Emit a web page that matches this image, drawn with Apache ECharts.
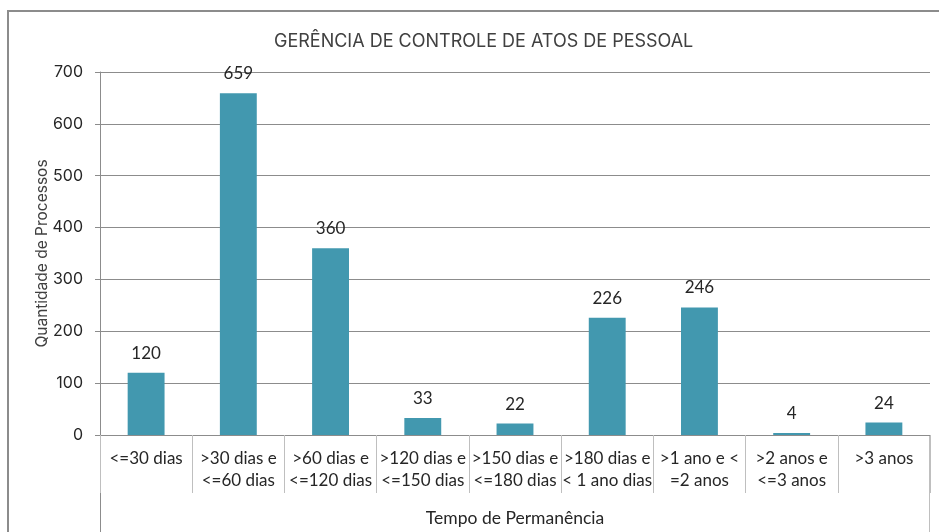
<!DOCTYPE html>
<html>
<head>
<meta charset="utf-8" />
<title>Gerência de Controle de Atos de Pessoal</title>
<script src="https://cdn.jsdelivr.net/npm/echarts@6/dist/echarts.min.js"></script>
<style>
  html, body { margin: 0; padding: 0; background: #fff; }
  #main { width: 939px; height: 532px; }
</style>
</head>
<body>
<div id="main"></div>
<script type="text/javascript">
    // dados do grafico
    var categorias = [
        '<=30 dias',
        '>30 dias e\n<=60 dias',
        '>60 dias e\n<=120 dias',
        '>120 dias e\n<=150 dias',
        '>150 dias e\n<=180 dias',
        '>180 dias e\n< 1 ano dias',
        '>1 ano e <\n=2 anos',
        '>2 anos e\n<=3 anos',
        '>3 anos'
    ];
    var processos = [120, 659, 360, 33, 22, 226, 246, 4, 24];
    var titulo = 'GERÊNCIA DE CONTROLE DE ATOS DE PESSOAL';
    var nomeX = 'Tempo de Permanência';
    var nomeY = 'Quantidade de Processos';

    var myChart = echarts.init(document.getElementById('main'));

    var option = {
        animation: false,
        title: {
            text: titulo,
            left: 269,
            top: 28,
            textStyle: {
                fontFamily: 'Inter',
                fontWeight: 'normal',
                fontSize: 18,
                color: '#404040'
            }
        },
        grid: {
            left: 100,
            right: 9,
            top: 72,
            bottom: 97,
            outerBoundsMode: 'none'
        },
        xAxis: {
            type: 'category',
            data: categorias,
            name: nomeX,
            nameLocation: 'middle',
            nameGap: 74,
            nameMoveOverlap: false,
            nameTextStyle: {
                fontFamily: 'Lato',
                fontSize: 17.5,
                color: '#262626'
            },
            axisLine: { lineStyle: { color: '#8c8c8c', width: 1 } },
            axisTick: {
                show: true,
                interval: 0,
                length: 58,
                lineStyle: { color: '#bfbfbf', width: 1 }
            },
            axisLabel: {
                interval: 0,
                margin: 13,
                fontFamily: 'Lato',
                fontSize: 17,
                lineHeight: 22,
                color: '#262626'
            }
        },
        yAxis: {
            type: 'value',
            min: 0,
            max: 700,
            interval: 100,
            name: nomeY,
            nameLocation: 'middle',
            nameGap: 50,
            nameMoveOverlap: false,
            nameTextStyle: {
                fontFamily: 'Inter',
                fontSize: 15.5,
                color: '#404040'
            },
            axisLine: { show: true, lineStyle: { color: '#8c8c8c', width: 1 } },
            axisTick: { show: true, length: 5, lineStyle: { color: '#8c8c8c' } },
            axisLabel: {
                margin: 17,
                fontFamily: 'Inter',
                fontSize: 16,
                color: '#262626'
            },
            splitLine: { lineStyle: { color: '#8c8c8c', width: 1 } }
        },
        series: [{
            name: 'Processos',
            type: 'bar',
            data: processos,
            barWidth: '40%',
            itemStyle: { color: '#4298af' },
            label: {
                show: true,
                position: 'top',
                distance: 11,
                fontFamily: 'Lato',
                fontSize: 17,
                color: '#262626'
            }
        }],
        graphic: [
            // moldura do grafico
            {
                type: 'rect',
                shape: { x: 8, y: 11, width: 1000, height: 600 },
                style: { fill: 'none', stroke: '#8c8c8c', lineWidth: 2 },
                silent: true
            },
            // bordas da tabela de categorias
            {
                type: 'line',
                shape: { x1: 100.5, y1: 435, x2: 100.5, y2: 532 },
                style: { stroke: '#8c8c8c', lineWidth: 1 },
                silent: true
            },
            {
                type: 'line',
                shape: { x1: 929.5, y1: 435, x2: 929.5, y2: 532 },
                style: { stroke: '#bfbfbf', lineWidth: 1 },
                silent: true
            }
        ]
    };
    myChart.setOption(option);
</script>
</body>
</html>
